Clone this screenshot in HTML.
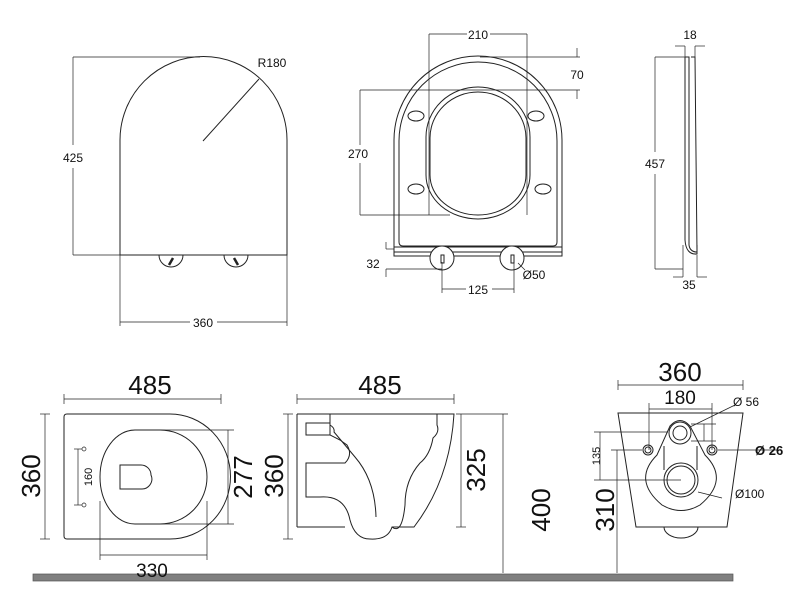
<!DOCTYPE html>
<html><head><meta charset="utf-8"><style>
html,body{margin:0;padding:0;background:#fff}
svg{display:block}
text{font-family:"Liberation Sans",Arial,sans-serif;fill:#111}
</style></head><body>
<svg width="800" height="600" viewBox="0 0 800 600" xmlns="http://www.w3.org/2000/svg">
<g fill="none" stroke="#222" stroke-width="1">
<!-- Top-left lid -->
<path d="M120 255 L120 140 A83 83 0 0 1 287 140 L287 255 Z"/>
<path d="M159 255 A12 12 0 0 0 183 255"/><path d="M224 255 A12 12 0 0 0 248 255"/>
<line x1="169" y1="265" x2="173" y2="258" stroke-width="2.5"/>
<line x1="234" y1="258" x2="238" y2="265" stroke-width="2.5"/>
<line x1="73" y1="57" x2="200" y2="57" stroke-width="0.7"/>
<line x1="73" y1="255" x2="120" y2="255" stroke-width="0.7"/>
<line x1="73" y1="57" x2="73" y2="145" stroke-width="0.7"/>
<line x1="73" y1="168" x2="73" y2="255" stroke-width="0.7"/>
<line x1="120" y1="255" x2="120" y2="326" stroke-width="0.7"/>
<line x1="287" y1="255" x2="287" y2="326" stroke-width="0.7"/>
<line x1="120" y1="322" x2="190" y2="322" stroke-width="0.7"/>
<line x1="217" y1="322" x2="287" y2="322" stroke-width="0.7"/>
<line x1="203" y1="141" x2="259" y2="79"/>

<!-- Top-middle seat -->
<path d="M394 252 L394 140 A84 84 0 0 1 562 140 L562 252 Z"/>
<path d="M399 242 L399 141 A79 79 0 0 1 557 141 L557 242 Q557 246 553 246 L403 246 Q399 246 399 242 Z"/>
<path d="M426 175 L426 137 A52 50 0 0 1 530 137 L530 175 A52 44 0 0 1 426 175 Z"/>
<path d="M430 175 L430 138 A48 46 0 0 1 526 138 L526 175 A48 40 0 0 1 430 175 Z"/>
<ellipse cx="416" cy="116" rx="8" ry="5"/><ellipse cx="536" cy="116" rx="8" ry="5"/>
<ellipse cx="416" cy="189" rx="8" ry="5"/><ellipse cx="543" cy="189" rx="8" ry="5"/>
<rect x="394" y="247" width="168" height="9"/>
<circle cx="442" cy="258" r="12" fill="#fff"/><circle cx="512" cy="258" r="12" fill="#fff"/>
<rect x="441" y="255" width="3" height="8"/><rect x="511" y="255" width="3" height="8"/>
<g stroke-width="0.7">
<line x1="429" y1="34" x2="467" y2="34"/><line x1="490" y1="34" x2="527" y2="34"/>
<line x1="429" y1="34" x2="429" y2="215"/><line x1="527" y1="34" x2="527" y2="215"/>
<line x1="480" y1="57" x2="580" y2="57"/>
<line x1="360" y1="90" x2="580" y2="90"/>
<line x1="360" y1="215" x2="450" y2="215"/>
<line x1="577" y1="48" x2="577" y2="57"/><line x1="577" y1="90" x2="577" y2="99"/>
<line x1="360" y1="90" x2="360" y2="145"/><line x1="360" y1="163" x2="360" y2="215"/>
<line x1="386" y1="249" x2="394" y2="249"/><line x1="386" y1="269" x2="442" y2="269"/>
<line x1="386" y1="242" x2="386" y2="249"/><line x1="386" y1="269" x2="386" y2="277"/>
<line x1="442" y1="262" x2="442" y2="293"/><line x1="514" y1="262" x2="514" y2="293"/>
<line x1="442" y1="289" x2="466" y2="289"/><line x1="492" y1="289" x2="514" y2="289"/>
<line x1="518" y1="263" x2="525" y2="270"/>
</g>
<!-- side view -->
<path d="M685 57 L689 57 L689 245 Q690 252 697 252 L695 57 L691 57" />
<path d="M685 57 L685 240 Q686 255 697 254 L697 245"/>
<g stroke-width="0.7">
<line x1="655" y1="57" x2="685" y2="57"/><line x1="655" y1="269" x2="683" y2="269"/>
<line x1="655" y1="57" x2="655" y2="152"/><line x1="655" y1="174" x2="655" y2="269"/>
<line x1="685" y1="46" x2="685" y2="57"/><line x1="695" y1="46" x2="695" y2="57"/>
<line x1="675" y1="46" x2="685" y2="46"/><line x1="695" y1="46" x2="705" y2="46"/>
<line x1="683" y1="245" x2="683" y2="277"/><line x1="697" y1="255" x2="697" y2="277"/>
<line x1="673" y1="277" x2="683" y2="277"/><line x1="697" y1="277" x2="707" y2="277"/>
</g>

<!-- Bottom-left plan -->
<path d="M67 414 L170 414 A60 62 0 0 1 170 539 L67 539 Q64 539 64 536 L64 417 Q64 414 67 414 Z"/>
<path d="M135 430 L160 430 A47 47 0 0 1 160 524 L135 524 A35 47 0 0 1 135 430 Z"/>
<path d="M120 465 L141 465 A10 10 0 0 1 151 475 A10 10 0 0 1 141 489 L120 489 Z"/>
<g stroke-width="0.7">
<line x1="64" y1="399" x2="221" y2="399"/><line x1="64" y1="394" x2="64" y2="404"/><line x1="221" y1="394" x2="221" y2="404"/>
<line x1="45" y1="414" x2="45" y2="539"/><line x1="40" y1="414" x2="50" y2="414"/><line x1="40" y1="539" x2="50" y2="539"/>
<line x1="160" y1="430" x2="234" y2="430"/><line x1="160" y1="524" x2="234" y2="524"/>
<line x1="228" y1="430" x2="228" y2="524"/>
<line x1="100" y1="501" x2="100" y2="560"/><line x1="207" y1="501" x2="207" y2="560"/>
<line x1="100" y1="555" x2="207" y2="555"/>
<line x1="78" y1="449" x2="78" y2="505"/><line x1="74" y1="449" x2="82" y2="449"/><line x1="74" y1="505" x2="82" y2="505"/>
<circle cx="84" cy="449" r="2"/><circle cx="84" cy="505" r="2"/>
</g>
<!-- Side elevation -->
<path d="M297 414 L454 414 Q450 480 414 527 L392 527 Q388 540 370 539 Q355 539 350 520 Q345 495 320 497 L306 497 L306 463 L345 463 Q353 455 347 445 L340 440 L330 435 L330 414"/>
<line x1="297" y1="414" x2="297" y2="527"/><line x1="297" y1="527" x2="345" y2="527"/>
<path d="M306 423 L330 423 L330 435 L306 435 Z"/>
<path d="M330 414 L330 425 Q335 428 334 432 Q345 445 355 457 Q375 480 376 517"/>
<path d="M437 414 L437 425 Q440 432 433 438 Q430 455 420 463 Q405 480 405 505 Q402 535 392 527"/>
<g stroke-width="0.7">
<line x1="297" y1="399" x2="454" y2="399"/><line x1="297" y1="394" x2="297" y2="404"/><line x1="454" y1="394" x2="454" y2="404"/>
<line x1="288" y1="414" x2="288" y2="539"/><line x1="283" y1="414" x2="293" y2="414"/><line x1="283" y1="539" x2="293" y2="539"/>
<line x1="456" y1="414" x2="508" y2="414"/>
<line x1="461" y1="414" x2="461" y2="527"/><line x1="456" y1="527" x2="466" y2="527"/>
<line x1="503" y1="414" x2="503" y2="573"/>
</g>
<!-- Right back view -->
<path d="M618 413 L743 413 L727 527 L636 527 Z"/>
<path d="M664 527 A17 11 0 0 0 698 527"/>
<path d="M670 426 Q680 415 690 426 L705 455 Q730 480 700 505 Q681 516 662 505 Q632 480 657 455 Z"/>
<line x1="664" y1="446" x2="664" y2="470"/><line x1="697" y1="446" x2="697" y2="470"/>
<circle cx="680" cy="433" r="11"/><circle cx="680" cy="433" r="7"/>
<circle cx="681" cy="480" r="17"/><circle cx="681" cy="480" r="14"/>
<circle cx="648" cy="450" r="5"/><circle cx="648" cy="450" r="3"/>
<circle cx="712" cy="450" r="5"/><circle cx="712" cy="450" r="3"/>
<g stroke-width="0.7">
<line x1="618" y1="385" x2="743" y2="385"/><line x1="618" y1="380" x2="618" y2="390"/><line x1="743" y1="380" x2="743" y2="390"/>
<line x1="649" y1="403" x2="649" y2="450"/><line x1="712" y1="403" x2="712" y2="450"/>
<line x1="649" y1="409" x2="712" y2="409"/>
<line x1="594" y1="432" x2="668" y2="432"/><line x1="594" y1="480" x2="681" y2="480"/>
<line x1="600" y1="432" x2="600" y2="480"/>
<line x1="611" y1="450" x2="642" y2="450"/>
<line x1="617" y1="450" x2="617" y2="573"/>
<line x1="691" y1="424" x2="716" y2="424"/><line x1="691" y1="441" x2="716" y2="441"/><line x1="704" y1="424" x2="704" y2="441"/>
<line x1="690" y1="427" x2="735" y2="405"/>
<line x1="718" y1="450" x2="780" y2="450"/>
<line x1="698" y1="492" x2="722" y2="498"/>
</g>
</g>
<!-- floor -->
<rect x="33" y="574" width="700" height="7" fill="#808080" stroke="#555" stroke-width="0.7"/>

<!-- labels -->
<g font-size="12" text-anchor="middle">
<text x="272" y="67">R180</text>
<text x="73" y="162">425</text>
<text x="203" y="327">360</text>
<text x="478" y="39">210</text>
<text x="577" y="79">70</text>
<text x="358" y="158">270</text>
<text x="373" y="268">32</text>
<text x="478" y="294">125</text>
<text x="534" y="279">Ø50</text>
<text x="690" y="39">18</text>
<text x="655" y="168">457</text>
<text x="689" y="289">35</text>
</g>
<g font-size="26" text-anchor="middle">
<text x="150" y="394">485</text>
<text x="380" y="394">485</text>
<text x="680" y="381">360</text>
<text transform="translate(40,476) rotate(-90)">360</text>
<text transform="translate(283,476) rotate(-90)">360</text>
<text transform="translate(252,477) rotate(-90)">277</text>
<text transform="translate(485,470) rotate(-90)">325</text>
<text transform="translate(550,510) rotate(-90)">400</text>
<text transform="translate(614,510) rotate(-90)">310</text>
</g>
<g font-size="19" text-anchor="middle">
<text x="152" y="577">330</text>
<text x="680" y="404">180</text>
</g>
<text transform="translate(92,477) rotate(-90)" font-size="11" text-anchor="middle">160</text>
<text transform="translate(600,456) rotate(-90)" font-size="11" text-anchor="middle">135</text>
<text x="733" y="406" font-size="12">Ø 56</text>
<text x="755" y="455" font-size="13"><tspan font-weight="bold">Ø 26</tspan></text>
<text x="735" y="498" font-size="12">Ø100</text>
</svg>
</body></html>
